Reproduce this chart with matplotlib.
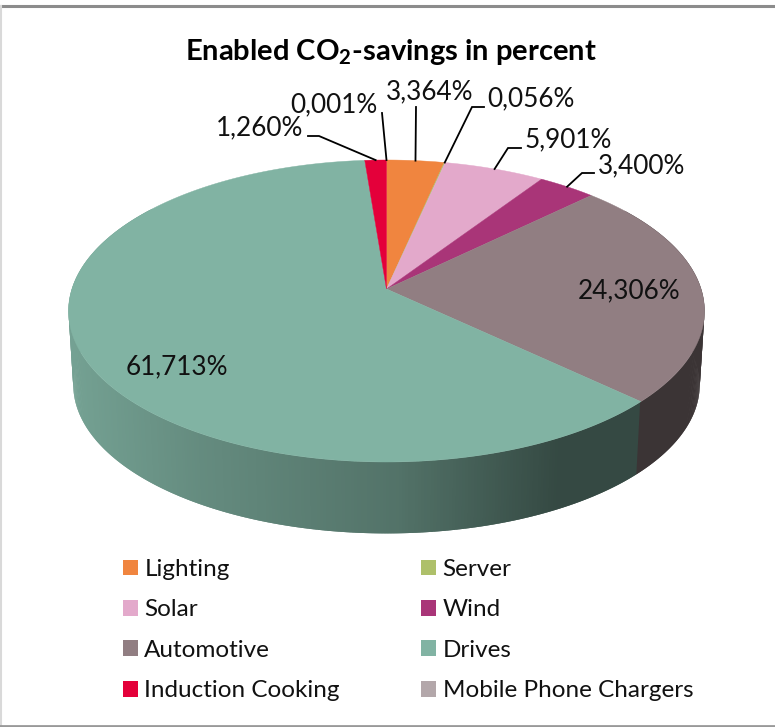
import matplotlib
matplotlib.use("Agg")
import matplotlib.pyplot as plt
import numpy as np
from matplotlib.patches import Patch

plt.rcParams['font.family'] = ['Lato', 'DejaVu Sans']
plt.rcParams['mathtext.fontset'] = 'custom'
plt.rcParams['mathtext.bf'] = 'Lato:bold'
plt.rcParams['mathtext.rm'] = 'Lato'

# slices, clockwise from 12 o'clock
names = ['Lighting', 'Server', 'Solar', 'Wind', 'Automotive', 'Drives',
         'Induction Cooking', 'Mobile Phone Chargers']
values = [3.364, 0.056, 5.901, 3.400, 24.306, 61.713, 1.260, 0.001]
labels = ['3,364%', '0,056%', '5,901%', '3,400%', '24,306%', '61,713%',
          '1,260%', '0,001%']
colors = ['#F0853F', '#AEC06A', '#E3A9CB', '#A93578', '#917E82', '#81B3A3',
          '#E4003A', '#B3A7AA']

# label centre + leader elbow, in pixels
label_pos = [(430, 92), (531, 99), (568, 140), (642, 166), (629, 291), (177, 367),
             (260, 128), (334, 105)]
leaders = [[(416, 107)],
           [(484, 107), (472, 107)],
           [(521, 148), (508, 148)],
           [(594, 173), (582, 173)],
           None,
           None,
           [(308, 136), (319, 136)],
           [(382, 113)]]

W, H = 775, 727

# perspective of the tilted disc
CX, CY = 386.5, 289.0
A, B, K = 314.6, 147.8, 0.1457
DEPTH, SHRINK = 74.0, 0.985

# wall shading along x
shade_x = [70, 200, 400, 560, 640, 700]
shade_f = [0.90, 0.78, 0.64, 0.41, 0.41, 0.41]


def project(theta, depth=0.0, scale=1.0):
    u, v = np.sin(theta), np.cos(theta)
    d = 1 + K * v
    return CX + scale * A * u / d, CY + depth - scale * B * v / d


fig = plt.figure(figsize=(W / 100, H / 100), dpi=100, facecolor='w')
ax = fig.add_axes([0, 0, 1, 1])
ax.set_xlim(0, W)
ax.set_ylim(H, 0)
ax.axis('off')

edges = np.radians(np.cumsum([0] + values) / sum(values) * 360)

# side wall, each strip overlaps the next so no seams show
step = np.radians(0.5)
tt = np.arange(np.radians(55), np.radians(305), step)
for t0 in tt:
    t1 = t0 + 2 * step
    tm = t0 + step / 2
    i = min(np.searchsorted(edges, tm) - 1, len(values) - 1)
    x0, y0 = project(t0)
    x1, y1 = project(t1)
    x2, y2 = project(t1, DEPTH, SHRINK)
    x3, y3 = project(t0, DEPTH, SHRINK)
    f = np.interp(x0, shade_x, shade_f)
    c = np.array(matplotlib.colors.to_rgb(colors[i])) * f
    ax.fill([x0, x1, x2, x3], [y0, y1, y2, y3], color=c, lw=0, zorder=1)

# top face
for i in range(len(values)):
    th = np.linspace(edges[i], edges[i + 1], 200)
    x, y = project(th)
    ax.fill(np.r_[CX, x], np.r_[CY, y], color=colors[i],
            lw=0 if values[i] < 0.01 else 0.3, zorder=2)

# labels and leaders
for i, lab in enumerate(labels):
    ax.text(label_pos[i][0], label_pos[i][1], lab, fontsize=18.8, color='#111111',
            ha='center', va='center', zorder=5)
    if leaders[i] is not None:
        mid = (edges[i] + edges[i + 1]) / 2
        ex, ey = project(mid)
        xs = [p[0] for p in leaders[i]] + [float(ex)]
        ys = [p[1] for p in leaders[i]] + [float(ey)]
        ax.plot(xs, ys, color='k', lw=1.3, zorder=4, solid_joinstyle='miter')

ax.text(391, 52, r'Enabled CO$_{\mathbf{2}}$-savings in percent', fontsize=21,
        fontweight='bold', color='k', ha='center', va='center')

# legend, row-wise order over two columns
order = [0, 2, 4, 6, 1, 3, 5, 7]
handles = [Patch(facecolor=colors[i], edgecolor='none', label=names[i]) for i in order]
ax.legend(handles=handles, ncol=2, frameon=False, fontsize=17.5, loc='upper left',
          bbox_to_anchor=(123 / W, 1 - 559 / H), bbox_transform=ax.transAxes,
          borderaxespad=0, borderpad=0, handlelength=0.62, handleheight=0.62,
          handletextpad=0.26, labelspacing=0.8, columnspacing=3.35,
          labelcolor='#111111')

# chart frame
ax.plot([0, W], [6, 6], color='#8C8C8C', lw=2.2, zorder=6)
ax.plot([0.5, 0.5], [6, H], color='#D9D9D9', lw=1.5, zorder=6)
ax.plot([0, W], [H - 1, H - 1], color='#999999', lw=2, zorder=6)

fig.savefig('out.png', dpi=100)
